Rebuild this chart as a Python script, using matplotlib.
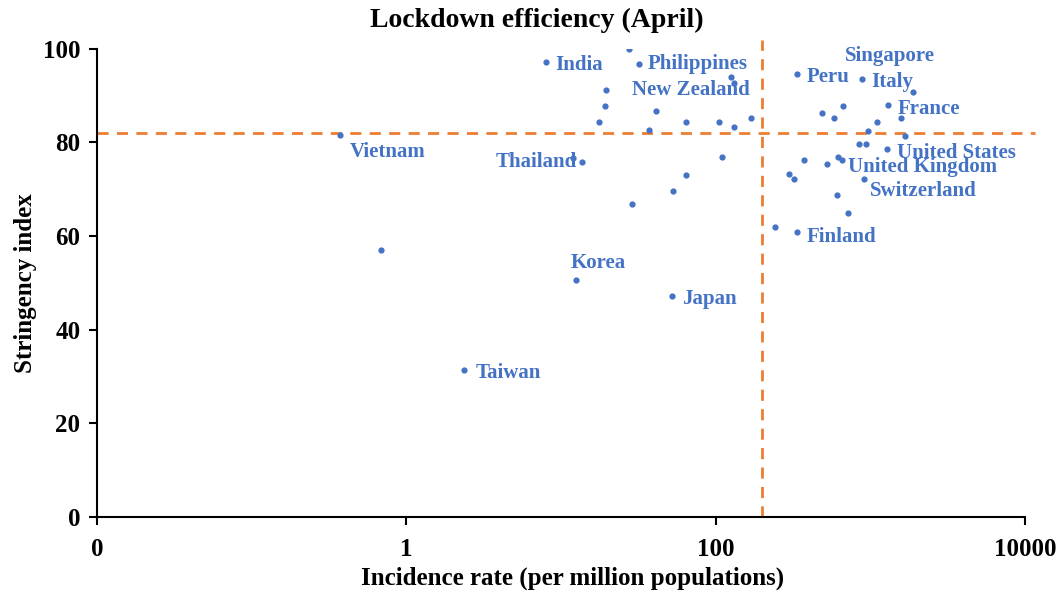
import matplotlib.pyplot as plt

# incidence rate (per million) and stringency index
incidence = [0.37, 0.69, 2.36, 7.98, 12.5, 11.9, 13.6, 27.6, 31.9, 19.5, 19.2, 17.7,
             40.8, 37.2, 63.8, 105, 131, 168, 126, 131, 110, 63.8, 52.6, 28.8, 52.4,
             336, 877, 1892, 1303, 484, 668, 581, 1096, 1567, 959, 1671, 843, 935,
             1285, 372, 521, 620, 657, 298, 321, 912, 604, 713, 241, 333]
stringency = [81.5, 57.0, 31.4, 97.2, 50.6, 76.7, 75.9, 100, 96.8, 91.2, 87.9, 84.3,
              86.8, 82.7, 84.3, 84.3, 83.3, 85.3, 93.9, 92.7, 76.9, 73.1, 69.7, 66.8, 47.2,
              94.6, 93.6, 90.7, 88.0, 86.4, 87.7, 85.3, 84.4, 85.3, 82.5, 81.4, 79.6, 79.6,
              78.6, 76.3, 75.4, 76.9, 76.3, 73.2, 72.2, 72.1, 68.7, 64.9, 62.0, 60.8]

# labelled countries: name, x, y, offset (points), alignment
labels = [
    ("India", 7.98, 97.2, (7, -2), "left"),
    ("Philippines", 31.9, 96.8, (6, 0), "left"),
    ("New Zealand", 131, 92.7, (-73, -5), "left"),
    ("Singapore", 1892, 90.7, (-49, 26), "left"),
    ("Peru", 336, 94.6, (7, -2), "left"),
    ("Italy", 877, 93.6, (7, -2), "left"),
    ("France", 1303, 88.0, (7, -3), "left"),
    ("United States", 1285, 78.6, (7, -3), "left"),
    ("United Kingdom", 657, 76.3, (4, -5), "left"),
    ("Switzerland", 912, 72.1, (4, -8), "left"),
    ("Finland", 333, 60.8, (7, -3), "left"),
    ("Vietnam", 0.37, 81.5, (7, -12), "left"),
    ("Thailand", 11.9, 76.7, (3, -3), "right"),
    ("Korea", 12.5, 50.6, (-4, 12), "left"),
    ("Japan", 52.4, 47.2, (7, -2), "left"),
    ("Taiwan", 2.36, 31.4, (8, -2), "left"),
]

x_cut = 199
y_cut = 82

blue = '#4472C4'
orange = '#ED7D31'

plt.rcParams['font.family'] = ['Liberation Serif', 'DejaVu Serif']
plt.rcParams['font.weight'] = 'bold'

fig = plt.figure(figsize=(10.59, 5.96), dpi=100)
ax = fig.add_axes([0.0916, 0.1326, 0.8764, 0.7854])

ax.scatter(incidence, stringency, s=12, color=blue, zorder=3)

for name, x, y, off, ha in labels:
    ax.annotate(name, (x, y), xytext=off, textcoords='offset points',
                ha=ha, va='center', color=blue, fontsize=15, fontweight='bold')

ax.plot([0.01, 11500], [y_cut, y_cut], color=orange, lw=2, ls=(0, (4, 3)),
        clip_on=False, zorder=2)
ax.plot([x_cut, x_cut], [0, 101.8], color=orange, lw=2, ls=(0, (4, 3)),
        clip_on=False, zorder=2)

ax.set_xscale('log')
ax.set_xlim(0.01, 10000)
ax.set_ylim(0, 100)
ax.set_xticks([0.01, 1, 100, 10000])
ax.set_xticklabels(['0', '1', '100', '10000'])
ax.minorticks_off()
ax.set_yticks([0, 20, 40, 60, 80, 100])

for s in ['top', 'right']:
    ax.spines[s].set_visible(False)
for s in ['left', 'bottom']:
    ax.spines[s].set_linewidth(1.5)
ax.tick_params(axis='both', labelsize=18, width=1.5, length=6, direction='out')
ax.tick_params(axis='x', pad=9)
ax.tick_params(axis='y', pad=6)

fig.text(0.507, 0.966, 'Lockdown efficiency (April)', fontsize=20,
         fontweight='bold', ha='center', va='center')
ax.set_xlabel('Incidence rate (per million populations)', fontsize=18,
              fontweight='bold', labelpad=4, x=0.512)
ax.set_ylabel('Stringency index', fontsize=18, fontweight='bold', labelpad=4)

fig.savefig('out.png', dpi=100)
